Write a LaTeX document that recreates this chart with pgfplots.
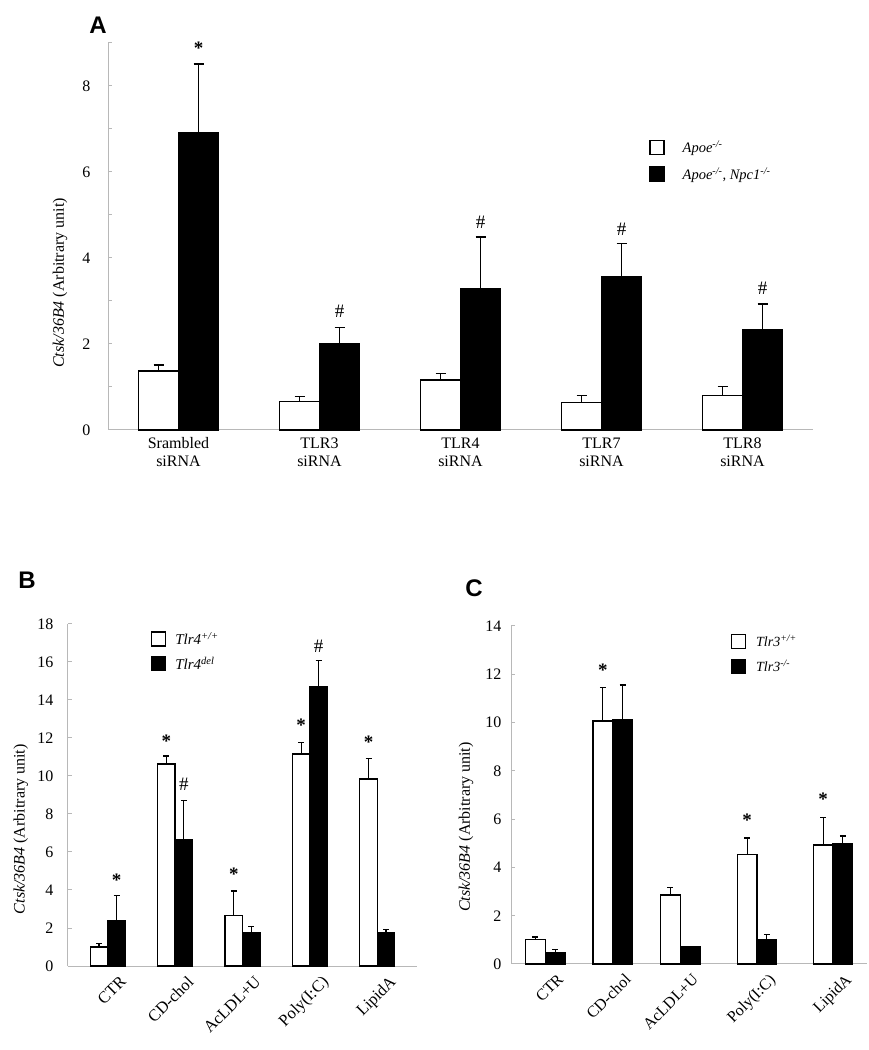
\documentclass[border=0pt]{standalone}
\usepackage{fontspec}
\setmainfont{Liberation Serif}
\newfontfamily\arial{Liberation Sans}
\usepackage{pgfplots}
\pgfplotsset{compat=1.18}
\newcommand\fs{\fontsize{16}{18}\selectfont}
\newcommand\st{\textbf{*}}
\tikzset{ann/.style={font=\fontsize{19}{19}\selectfont, anchor=center}}
\pgfplotsset{
  panel/.style={
    scale only axis, anchor=south west,
    axis lines=left, axis line style={-, draw=black!28, line width=1pt},
    tick align=inside, tick style={draw=black!28, line width=1pt},
    major tick length=4pt, minor tick length=4pt,
    xtick style={draw=none},
    ymin=0, ybar=0pt,
    tick label style={font=\fs},
    /pgf/number format/assume math mode=true,
    ylabel={\textit{Ctsk/36B4} (Arbitrary unit)},
    ylabel style={font=\fs, anchor=center},
    legend style={draw=none, fill=none, inner sep=0pt, outer sep=0pt},
    legend cell align=left,
    clip=false,
  },
  sqlegend/.style={legend image code/.code={\draw[##1, line width=1.2pt] (0pt,-7pt) rectangle (14pt,7pt);}},
  wbar/.style={draw=black, fill=white, line width=1.3pt,
    error bars/y dir=plus, error bars/y explicit,
    error bars/error mark=|,
    error bars/error bar style={black, line width=1.2pt},
    error bars/error mark options={black, line width=1.2pt, mark size=#1}},
  bbar/.style={draw=black, fill=black, line width=1.3pt,
    error bars/y dir=plus, error bars/y explicit,
    error bars/error mark=|,
    error bars/error bar style={black, line width=1.2pt},
    error bars/error mark options={black, line width=1.2pt, mark size=#1}},
}
\begin{document}
\begin{tikzpicture}[x=1pt,y=1pt]
\path (0,0) rectangle (869,1050);
\node[font=\arial\bfseries\fontsize{24}{24}\selectfont] at (98,1025) {A};
\node[font=\arial\bfseries\fontsize{24}{24}\selectfont] at (27,470) {B};
\node[font=\arial\bfseries\fontsize{24}{24}\selectfont] at (474,462) {C};

% ---------------- Panel A
\begin{axis}[panel, at={(108pt,620pt)}, width=705pt, height=387pt,
  xmin=-0.5, xmax=4.5, ymax=9,
  ytick={0,2,...,8}, minor ytick={1,3,...,9},
  xtick={0,...,4},
  xticklabels={{Srambled\\siRNA},{TLR3\\siRNA},{TLR4\\siRNA},{TLR7\\siRNA},{TLR8\\siRNA}},
  xticklabel style={align=center},
  yticklabel style={xshift=-14pt},
  ylabel style={at={(rel axis cs:-0.068,0.38)}},
  bar width=40pt,
  legend style={at={(rel axis cs:0.768,0.752)}, anchor=north west,
    font=\fontsize{14.5}{17}\selectfont, row sep=9pt,
    /tikz/every odd column/.append style={column sep=16pt}},
]
\addplot[wbar=5pt, sqlegend] coordinates {
 (0,1.37) +- (0,0.14)
 (1,0.67) +- (0,0.11)
 (2,1.16) +- (0,0.15)
 (3,0.64) +- (0,0.17)
 (4,0.81) +- (0,0.21)};
\addlegendentry{\textit{Apoe\textsuperscript{-/-}}}
\addplot[bbar=5pt, sqlegend] coordinates {
 (0,6.91) +- (0,1.60)
 (1,2.00) +- (0,0.38)
 (2,3.29) +- (0,1.20)
 (3,3.57) +- (0,0.76)
 (4,2.33) +- (0,0.60)};
\addlegendentry{\textit{Apoe\textsuperscript{-/-}, Npc1\textsuperscript{-/-}}}
\node[ann] at (axis cs:0,8.88) [xshift=20pt] {\st};
\node[ann] at (axis cs:1,2.75) [xshift=20pt] {\#};
\node[ann] at (axis cs:2,4.82) [xshift=20pt] {\#};
\node[ann] at (axis cs:3,4.67) [xshift=20pt] {\#};
\node[ann] at (axis cs:4,3.29) [xshift=20pt] {\#};
\end{axis}

% ---------------- Panel B
\begin{axis}[panel, at={(68pt,84pt)}, width=349pt, height=342pt,
  xmin=-0.59, xmax=4.59, ymax=18,
  ytick={0,2,...,18},
  xtick={0,...,4},
  xticklabels={CTR,CD-chol,AcLDL+U,Poly(I:C),LipidA},
  xticklabel style={rotate=45, anchor=north east, xshift=8pt, yshift=-8pt, font=\fontsize{16.5}{18}\selectfont},
  yticklabel style={xshift=-11pt},
  ylabel style={at={(rel axis cs:-0.135,0.40)}},
  bar width=17.5pt,
  legend style={at={(rel axis cs:0.238,0.982)}, anchor=north west,
    font=\fontsize{15}{17}\selectfont, row sep=7pt,
    /tikz/every odd column/.append style={column sep=7pt}},
]
\addplot[wbar=3pt, sqlegend] coordinates {
 (0,1.00) +- (0,0.18)
 (1,10.63) +- (0,0.42)
 (2,2.64) +- (0,1.31)
 (3,11.16) +- (0,0.60)
 (4,9.84) +- (0,1.06)};
\addlegendentry{\textit{Tlr4\textsuperscript{+/+}}}
\addplot[bbar=3pt, sqlegend] coordinates {
 (0,2.41) +- (0,1.32)
 (1,6.63) +- (0,2.10)
 (2,1.76) +- (0,0.30)
 (3,14.69) +- (0,1.37)
 (4,1.76) +- (0,0.16)};
\addlegendentry{\textit{Tlr4\textsuperscript{del}}}
\node[ann] at (axis cs:0,4.52) [xshift=8.75pt] {\st};
\node[ann] at (axis cs:1,11.85) [xshift=-8.75pt] {\st};
\node[ann] at (axis cs:1,9.58) [xshift=8.75pt] {\#};
\node[ann] at (axis cs:2,4.83) [xshift=-8.75pt] {\st};
\node[ann] at (axis cs:3,12.69) [xshift=-8.75pt] {\st};
\node[ann] at (axis cs:3,16.85) [xshift=8.75pt] {\#};
\node[ann] at (axis cs:4,11.76) [xshift=-8.75pt] {\st};
\end{axis}

% ---------------- Panel C
\begin{axis}[panel, at={(511pt,86pt)}, width=356pt, height=338pt,
  xmin=0, xmax=356, ymax=14,
  ytick={0,2,...,14},
  xtick={34.3,101.7,169.3,246,322},
  xticklabels={CTR,CD-chol,AcLDL+U,Poly(I:C),LipidA},
  xticklabel style={rotate=45, anchor=north east, xshift=8pt, yshift=-8pt},
  yticklabel style={xshift=-6pt},
  ylabel style={at={(rel axis cs:-0.126,0.405)}},
  bar width=19.7pt,
  legend style={at={(rel axis cs:0.618,0.979)}, anchor=north west,
    font=\fontsize{14}{17}\selectfont, row sep=8pt,
    /tikz/every odd column/.append style={column sep=8pt}},
]
\addplot[wbar=3pt, sqlegend] coordinates {
 (34.3,1.01) +- (0,0.11)
 (101.7,10.07) +- (0,1.39)
 (169.3,2.86) +- (0,0.30)
 (246,4.54) +- (0,0.68)
 (322,4.93) +- (0,1.15)};
\addlegendentry{\textit{Tlr3\textsuperscript{+/+}}}
\addplot[bbar=3pt, sqlegend] coordinates {
 (34.3,0.47) +- (0,0.12)
 (101.7,10.14) +- (0,1.42)
 (169.3,0.70) +- (0,0)
 (246,1.01) +- (0,0.22)
 (322,5.00) +- (0,0.30)};
\addlegendentry{\textit{Tlr3\textsuperscript{-/-}}}
\node[ann] at (axis cs:101.7,12.17) [xshift=-9.85pt] {\st};
\node[ann] at (axis cs:246,5.95) [xshift=-9.85pt] {\st};
\node[ann] at (axis cs:322,6.82) [xshift=-9.85pt] {\st};
\end{axis}
\end{tikzpicture}
\end{document}
